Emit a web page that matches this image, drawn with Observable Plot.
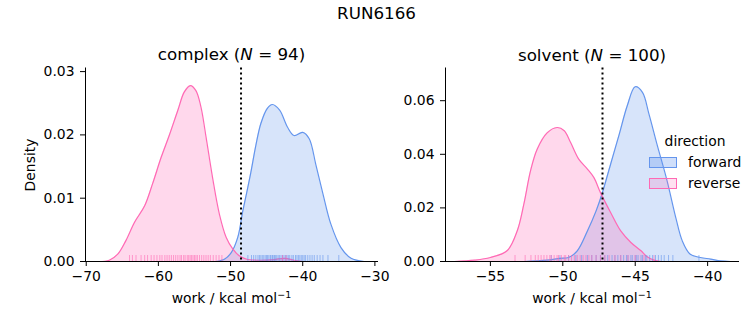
<!DOCTYPE html>
<html><head><meta charset="utf-8">
<script src="https://cdn.jsdelivr.net/npm/d3@7"></script>
<script src="https://cdn.jsdelivr.net/npm/@observablehq/plot@0.6"></script>
<style>
body{margin:0;background:#fff;font-family:"DejaVu Sans",sans-serif;}
#wrap{position:relative;width:753px;height:325px;overflow:hidden;background:#fff;}
#wrap svg{position:absolute;left:0;top:0;}
.t{position:absolute;white-space:nowrap;color:#000;transform:translate(-50%,-50%);line-height:1;}
.l{position:absolute;white-space:nowrap;color:#000;transform:translate(0,-50%);line-height:1;font-size:13.9px;}
.p{position:absolute;box-sizing:border-box;width:28px;height:11px;}
sup{font-size:9.5px;vertical-align:5px;line-height:0;}
</style></head><body>
<div id="wrap">
  <div id="p1"></div><div id="p2"></div>
  <div class="t" style="left:376.5px;top:13px;font-size:16.7px">RUN6166</div>
  <div class="t" style="left:231.5px;top:54px;font-size:16.7px">complex (<i>N</i> = 94)</div>
  <div class="t" style="left:592px;top:55px;font-size:16.7px">solvent (<i>N</i> = 100)</div>
  <div class="t" style="left:231.5px;top:299px;font-size:13.9px">work / kcal mol<sup>−1</sup></div>
  <div class="t" style="left:592px;top:299px;font-size:13.9px">work / kcal mol<sup>−1</sup></div>
  <div class="t" style="left:31px;top:165px;font-size:13.9px;transform:translate(-50%,-50%) rotate(-90deg)">Density</div>
  <div class="t" style="left:695px;top:142px;font-size:13.9px">direction</div>
  <div class="p" style="left:649px;top:157px;background:rgba(100,149,237,0.3);border:1px solid #6495ED"></div>
  <div class="p" style="left:649px;top:178px;background:rgba(255,105,180,0.2);border:1px solid #FF69B4"></div>
  <div class="l" style="left:688px;top:162.5px">forward</div>
  <div class="l" style="left:688px;top:183.5px">reverse</div>
</div>
<script>
// complex phase KDE curves
const complexForwardX = [-52.0,-50.8,-49.9,-49.0,-48.3,-47.85,-47.2,-46.5,-45.8,-44.9,-44.2,-43.2,-42.1,-41.2,-40.0,-39.1,-38.2,-37.2,-36.1,-34.7,-33.3,-31.5];
const complexForwardY = [0,0.0004,0.0014,0.0038,0.008,0.0104,0.014,0.0183,0.0218,0.0242,0.0248,0.0239,0.0212,0.0199,0.0204,0.0194,0.0154,0.0107,0.0059,0.0022,0.0005,0];
const complexReverseX = [-68.2,-66.8,-65.6,-64.5,-63.3,-61.9,-60.8,-59.6,-58.5,-57.3,-56.4,-55.56,-54.8,-54.1,-53.4,-52.5,-51.55,-50.6,-49.7,-48.8,-47.85,-46.0,-44.0,-42.5,-41.2,-40.0];
const complexReverseY = [0,0.0002,0.0012,0.0033,0.0062,0.0088,0.0123,0.0165,0.0199,0.0239,0.0268,0.0278,0.027,0.0244,0.0197,0.0133,0.0075,0.0038,0.002,0.0009,0.0004,0.0002,0.0003,0.0005,0.0002,0];
// solvent phase KDE curves
const solventForwardX = [-52.7,-51.1,-50.2,-49.6,-49.0,-48.3,-47.7,-47.3,-46.7,-46.1,-45.55,-45.0,-44.5,-44.05,-43.5,-42.8,-42.2,-41.75,-41.2,-40.5,-39.8,-39.1,-38.4];
const solventForwardY = [0,0.0005,0.0012,0.0015,0.004,0.0114,0.0189,0.0251,0.0363,0.0475,0.0581,0.0652,0.0631,0.055,0.0438,0.0301,0.0164,0.0077,0.0027,0.0015,0.0009,0.0002,0];
const solventReverseX = [-57.5,-56.1,-55.0,-53.85,-53.15,-52.69,-52.23,-51.77,-51.08,-50.39,-49.9,-49.46,-48.9,-48.3,-47.85,-47.4,-46.7,-46.0,-45.3,-44.6,-44.2,-43.7,-43.2];
const solventReverseY = [0,0.0005,0.0015,0.004,0.0114,0.0214,0.0338,0.0419,0.048,0.05,0.0488,0.0444,0.0382,0.0345,0.0313,0.0257,0.0183,0.0114,0.0071,0.004,0.0019,0.0005,0];
// rug values
const complexForwardRug = [-47.6,-47.1,-46.8,-46.5,-46.2,-46.0,-45.8,-45.6,-45.4,-45.2,-45.0,-44.9,-44.7,-44.5,-44.4,-44.2,-44.1,-43.9,-43.8,-43.6,-43.4,-43.2,-43.0,-42.8,-42.6,-42.4,-42.2,-42.0,-41.8,-41.5,-41.3,-41.0,-40.8,-40.6,-40.4,-40.2,-40.0,-39.8,-39.6,-39.3,-39.0,-38.7,-38.4,-38.0,-37.6,-37.2,-36.5,-35.0];
const complexReverseRug = [-64.0,-63.6,-63.1,-62.4,-61.9,-61.5,-61.0,-60.6,-60.2,-59.8,-59.5,-59.1,-58.8,-58.5,-58.2,-57.9,-57.6,-57.3,-57.0,-56.8,-56.5,-56.3,-56.0,-55.8,-55.6,-55.4,-55.2,-55.0,-54.8,-54.6,-54.3,-54.0,-53.7,-53.4,-53.1,-52.8,-52.4,-52.0,-51.6,-51.2,-42.8,-42.3];
const solventForwardRug = [-50.8,-50.2,-49.6,-49.1,-48.7,-48.3,-48.0,-47.7,-47.4,-47.1,-46.9,-46.6,-46.4,-46.2,-46.0,-45.8,-45.6,-45.5,-45.3,-45.2,-45.0,-44.9,-44.8,-44.6,-44.5,-44.3,-44.2,-44.0,-43.8,-43.6,-43.4,-43.2,-43.0,-42.7,-42.4,-40.6];
const solventReverseRug = [-53.3,-52.6,-52.2,-51.9,-51.7,-51.5,-51.3,-51.1,-50.9,-50.8,-50.6,-50.4,-50.3,-50.1,-49.9,-49.8,-49.6,-49.4,-49.2,-49.0,-48.8,-48.6,-48.4,-48.2,-48.0,-47.7,-47.4,-47.1,-46.8,-46.4,-46.0,-45.5,-45.0,-44.4,-43.7];
// free energy estimates (dotted lines)
const complexDG = [-48.55];
const solventDG = [-47.26];
// axes
const complexXDomain = [-70.1, -29.5];
const complexYDomain = [0, 0.03057];
const complexXTicks = [-70,-60,-50,-40,-30];
const complexYTicks = [0,0.01,0.02,0.03];
const solventXDomain = [-58.1, -37.8];
const solventYDomain = [0, 0.0722];
const solventXTicks = [-55,-50,-45,-40];
const solventYTicks = [0,0.02,0.04,0.06];

const FWD = "#6495ED", REV = "#FF69B4";
const W = 753, H = 325, TOP = 67.5, BOTTOM = 261;

function panel(o){
  const fwd = o.fx.map((x,i)=>({x, y:o.fy[i]}));
  const rev = o.rx.map((x,i)=>({x, y:o.ry[i]}));
  const ph = BOTTOM - TOP;
  const curve = "catmull-rom";
  return Plot.plot({
    width: W, height: H,
    marginLeft: o.left, marginRight: W - o.right, marginTop: TOP, marginBottom: H - BOTTOM,
    style: {background:"transparent", overflow:"visible", fontFamily:"DejaVu Sans", fontSize:"13.9px", color:"#000"},
    x: {domain: o.xd},
    y: {domain: o.yd},
    marks: [
      Plot.areaY(fwd, {x:"x", y:"y", fill:FWD, fillOpacity:0.26, curve}),
      Plot.areaY(rev, {x:"x", y:"y", fill:REV, fillOpacity:0.26, curve}),
      Plot.lineY(fwd, {x:"x", y:"y", stroke:FWD, strokeWidth:1.2, curve}),
      Plot.lineY(rev, {x:"x", y:"y", stroke:REV, strokeWidth:1.2, curve}),
      Plot.ruleX(o.fr, {x:d=>d, stroke:FWD, strokeOpacity:0.6, strokeWidth:1, insetTop: ph - 6}),
      Plot.ruleX(o.rr, {x:d=>d, stroke:REV, strokeOpacity:0.6, strokeWidth:1, insetTop: ph - 6}),
      Plot.ruleX(o.dg, {x:d=>d, stroke:"black", strokeWidth:2, strokeDasharray:"2,3"}),
      Plot.ruleY([o.yd[0]], {stroke:"black", strokeWidth:1}),
      Plot.ruleX([o.xd[0]], {stroke:"black", strokeWidth:1}),
      Plot.axisX({ticks:o.xt, tickSize:5, tickPadding:5, label:null, fontSize:13.9}),
      Plot.axisY({ticks:o.yt, tickSize:5, tickPadding:6, label:null, fontSize:13.9, tickFormat:d3.format(".2f")})
    ]
  });
}

document.getElementById("p1").appendChild(panel({
  fx:complexForwardX, fy:complexForwardY, rx:complexReverseX, ry:complexReverseY,
  fr:complexForwardRug, rr:complexReverseRug, dg:complexDG,
  xd:complexXDomain, yd:complexYDomain, xt:complexXTicks, yt:complexYTicks, left:85, right:378
}));
document.getElementById("p2").appendChild(panel({
  fx:solventForwardX, fy:solventForwardY, rx:solventReverseX, ry:solventReverseY,
  fr:solventForwardRug, rr:solventReverseRug, dg:solventDG,
  xd:solventXDomain, yd:solventYDomain, xt:solventXTicks, yt:solventYTicks, left:445, right:739
}));
</script>
</body></html>
